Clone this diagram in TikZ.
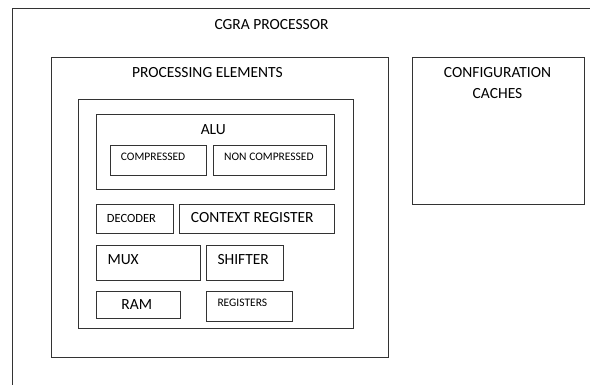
\documentclass[tikz,border=0pt]{standalone}
\usepackage{fontspec}
\setmainfont{Carlito}
\usetikzlibrary{fit,positioning}

\tikzset{
  blk/.style={draw=black!80, line width=1pt, inner sep=0pt},
  bigtxt/.style={inner sep=0pt, text=black, font=\fontsize{15.5}{18}\selectfont},
  midtxt/.style={inner sep=0pt, text=black, font=\fontsize{12.5}{15}\selectfont},
  smalltxt/.style={inner sep=0pt, text=black, font=\fontsize{11.5}{14}\selectfont},
}

\begin{document}
\begin{tikzpicture}[x=1pt,y=-1pt]
    \useasboundingbox (0,0) rectangle (590,385);
    % outer processor box, runs off the page on the right and at the bottom
    \node [blk, fit={(12,9) (620,420)}] (cgra) {};
    \node [bigtxt] (cgralbl) at (271.5,24.5) {CGRA PROCESSOR};
    % processing elements
    \node [blk, fit={(51.7,57.7) (388.3,357)}] (pe) {};
    \node [bigtxt] (pelbl) at (207.5,72.7) {PROCESSING ELEMENTS};
    \node [blk, fit={(78.3,100) (353,328.3)}] (pecore) {}; % inner frame
    % alu with its two parts
    \node [blk, fit={(96,114.7) (334.3,189.3)}] (alu) {};
    \node [bigtxt] (alulbl) at (213.3,129.5) {ALU};
    \node [blk, fit={(110,145.7) (206.7,176)}] (comp) {};
    \node [smalltxt, anchor=west] (complbl) at (120.7,157.2) {COMPRESSED};
    \node [blk, fit={(213.3,145.7) (326.7,176)}] (noncomp) {};
    \node [smalltxt, anchor=west] (noncomplbl) at (224,157.2) {NON COMPRESSED};
    % decoder and context register
    \node [blk, fit={(96,205) (173.3,233.3)}] (dec) {};
    \node [midtxt, anchor=west] (declbl) at (106.7,218) {DECODER};
    \node [blk, fit={(179.3,205) (334.3,233.3)}] (ctx) {};
    \node [bigtxt, anchor=west] (ctxlbl) at (190.7,218) {CONTEXT REGISTER};
    % mux and shifter
    \node [blk, fit={(96,246) (200.3,281)}] (mux) {};
    \node [bigtxt, anchor=west] (muxlbl) at (107.3,259.7) {MUX};
    \node [blk, fit={(206.3,246) (283.7,281)}] (shift) {};
    \node [bigtxt, anchor=west] (shiftlbl) at (217.3,259.7) {SHIFTER};
    % ram and registers
    \node [blk, fit={(96,291.7) (180,318.3)}] (ram) {};
    \node [bigtxt] (ramlbl) at (136.7,305) {RAM};
    \node [blk, fit={(206.3,291.7) (292.7,321.7)}] (regs) {};
    \node [smalltxt, anchor=west] (regslbl) at (217.3,303.3) {REGISTERS};
    % configuration caches
    \node [blk, fit={(412.3,57.7) (584.3,204.3)}] (cfg) {};
    \node [bigtxt] (cfglbl) at (497.5,72.5) {CONFIGURATION};
    \node [bigtxt, below=10pt of cfglbl] (cachelbl) {CACHES};
\end{tikzpicture}
\end{document}
